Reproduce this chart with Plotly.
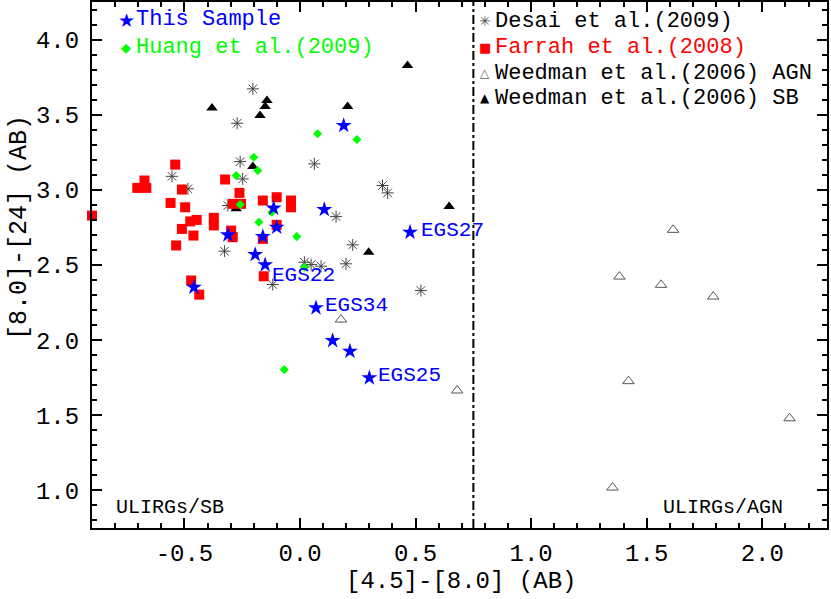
import plotly.graph_objects as go

# ---------------- data ----------------
sample_x = [-0.114, 0.105, -0.101, -0.312, -0.161, -0.194, -0.151, -0.459, 0.189, 0.476, 0.069, 0.141, 0.216, 0.300]
sample_y = [2.878, 2.869, 2.751, 2.700, 2.689, 2.569, 2.501, 2.352, 3.428, 2.718, 2.215, 1.997, 1.926, 1.749]
sample_names = ["", "", "", "", "", "", "EGS22", "", "", "EGS27", "EGS34", "", "", "EGS25"]

huang_x = [0.076, -0.200, -0.183, -0.276, -0.259, -0.178, -0.014, 0.019, 0.246, -0.122, -0.068]
huang_y = [3.373, 3.217, 3.128, 3.095, 2.902, 2.785, 2.689, 2.485, 3.335, 2.851, 1.804]

farrah_x = [-0.900, -0.673, -0.704, -0.665, -0.540, -0.511, -0.324, -0.262, -0.560, -0.497,
            -0.291, -0.255, -0.161, -0.101, -0.039, -0.039, -0.373, -0.373, -0.475, -0.447,
            -0.511, -0.461, -0.298, -0.291, -0.101, -0.161, -0.536, -0.157, -0.471, -0.436]
farrah_y = [2.829, 3.062, 3.013, 3.013, 3.168, 3.002, 3.069, 2.980, 2.913, 2.884,
            2.907, 2.907, 2.929, 2.951, 2.929, 2.884, 2.814, 2.763, 2.790, 2.800,
            2.740, 2.696, 2.729, 2.685, 2.767, 2.674, 2.630, 2.425, 2.397, 2.303]

desai_x = [-0.204, -0.272, -0.259, -0.248, 0.062, 0.357, 0.379, 0.156, 0.228, -0.554,
           -0.485, -0.312, -0.327, 0.019, 0.048, 0.091, 0.199, -0.118, 0.523]
desai_y = [3.672, 3.443, 3.188, 3.073, 3.173, 3.029, 2.980, 2.822, 2.634, 3.090,
           3.007, 2.896, 2.592, 2.518, 2.503, 2.492, 2.508, 2.370, 2.330]

agn_x = [1.614, 1.382, 1.562, 1.788, 1.421, 2.118, 1.352, 0.177, 0.680]
agn_y = [2.734, 2.423, 2.368, 2.290, 1.727, 1.480, 1.019, 2.137, 1.665]

sb_x = [0.465, -0.381, -0.143, -0.151, -0.173, 0.206, 0.645, 0.297, -0.204, -0.276]
sb_y = [3.827, 3.545, 3.594, 3.554, 3.494, 3.554, 2.889, 2.585, 3.155, 2.874]

divide_x = 0.75

x_tick_vals = [-0.5, 0.0, 0.5, 1.0, 1.5, 2.0]
x_tick_text = ["-0.5", "0.0", "0.5", "1.0", "1.5", "2.0"]
y_tick_vals = [1.0, 1.5, 2.0, 2.5, 3.0, 3.5, 4.0]
y_tick_text = ["1.0", "1.5", "2.0", "2.5", "3.0", "3.5", "4.0"]

x_title = "[4.5]-[8.0] (AB)"
y_title = "[8.0]-[24] (AB)"

legend_left = [("★", "This Sample", "#0000FF", "#0000FF", 19),
               ("◆", "Huang et al.(2009)", "#00FF00", "#00FF00", 13)]
legend_right = [("✳", "Desai et al.(2009)", "#555555", "#000000", 14),
                ("■", "Farrah et al.(2008)", "#FF0000", "#FF0000", 13),
                ("△", "Weedman et al.(2006) AGN", "#555555", "#000000", 12),
                ("▲", "Weedman et al.(2006) SB", "#000000", "#000000", 12)]

FONT = "Liberation Mono, Courier New, monospace"

fig = go.Figure()

fig.add_trace(go.Scatter(x=desai_x, y=desai_y, mode="markers", name="Desai et al.(2009)",
                         marker=dict(symbol="asterisk", size=10, color="#444444",
                                     line=dict(width=1, color="#444444"))))
fig.add_trace(go.Scatter(x=sb_x, y=sb_y, mode="markers", name="Weedman et al.(2006) SB",
                         marker=dict(symbol="triangle-up", size=10, color="#000000")))
fig.add_trace(go.Scatter(x=agn_x, y=agn_y, mode="markers", name="Weedman et al.(2006) AGN",
                         marker=dict(symbol="triangle-up-open", size=10, color="#555555",
                                     line=dict(width=1, color="#555555"))))
fig.add_trace(go.Scatter(x=farrah_x, y=farrah_y, mode="markers", name="Farrah et al.(2008)",
                         cliponaxis=False,
                         marker=dict(symbol="square", size=10, color="#FF0000")))
fig.add_trace(go.Scatter(x=huang_x, y=huang_y, mode="markers", name="Huang et al.(2009)",
                         marker=dict(symbol="diamond", size=7, color="#00FF00")))
fig.add_trace(go.Scatter(x=sample_x, y=sample_y, mode="markers", name="This Sample",
                         marker=dict(symbol="star", size=12, color="#0000FF")))

fig.add_vline(x=divide_x, line=dict(color="black", width=2, dash="dashdot"))

# EGS labels attached to their stars
shifts = {"EGS22": (5, -11), "EGS27": (9, 2), "EGS34": (7, 2), "EGS25": (7, 2)}
for xv, yv, nm in zip(sample_x, sample_y, sample_names):
    if nm:
        dx, dy = shifts[nm]
        fig.add_annotation(x=xv, y=yv, text=nm, showarrow=False, xanchor="left", yanchor="middle",
                           xshift=dx, yshift=dy, font=dict(family=FONT, size=21, color="#0000FF"))

# legends (manual)
def px2paper_x(px):
    return (px - 92) / 735.0

def px2paper_y(py):
    return (528 - py) / 526.0

rows_left = [20, 47]
for (sym, txt, sc, tc, ss), ry in zip(legend_left, rows_left):
    fig.add_annotation(xref="paper", yref="paper", x=px2paper_x(126), y=px2paper_y(ry), text=sym,
                       showarrow=False, xanchor="center", yanchor="middle",
                       font=dict(family="DejaVu Sans", size=ss, color=sc))
    fig.add_annotation(xref="paper", yref="paper", x=px2paper_x(134), y=px2paper_y(ry), text=txt,
                       showarrow=False, xanchor="left", yanchor="middle",
                       font=dict(family=FONT, size=22, color=tc))

rows_right = [21, 47, 73, 98]
for (sym, txt, sc, tc, ss), ry in zip(legend_right, rows_right):
    fig.add_annotation(xref="paper", yref="paper", x=px2paper_x(485), y=px2paper_y(ry), text=sym,
                       showarrow=False, xanchor="center", yanchor="middle",
                       font=dict(family="DejaVu Sans", size=ss, color=sc))
    fig.add_annotation(xref="paper", yref="paper", x=px2paper_x(493), y=px2paper_y(ry), text=txt,
                       showarrow=False, xanchor="left", yanchor="middle",
                       font=dict(family=FONT, size=22, color=tc))

# region labels
fig.add_annotation(xref="paper", yref="paper", x=px2paper_x(114), y=px2paper_y(507), text="ULIRGs/SB",
                   showarrow=False, xanchor="left", yanchor="middle",
                   font=dict(family=FONT, size=20, color="black"))
fig.add_annotation(xref="paper", yref="paper", x=px2paper_x(785), y=px2paper_y(507), text="ULIRGs/AGN",
                   showarrow=False, xanchor="right", yanchor="middle",
                   font=dict(family=FONT, size=20, color="black"))

# axis titles
fig.add_annotation(xref="paper", yref="paper", x=px2paper_x(461), y=px2paper_y(581), text=x_title,
                   showarrow=False, xanchor="center", yanchor="middle",
                   font=dict(family=FONT, size=24, color="black"))
fig.add_annotation(xref="paper", yref="paper", x=px2paper_x(19), y=px2paper_y(228), text=y_title,
                   showarrow=False, xanchor="center", yanchor="middle", textangle=-90,
                   font=dict(family=FONT, size=25, color="black"))

axis_common = dict(showgrid=False, zeroline=False, showline=True, linewidth=2, linecolor="black",
                   mirror="allticks", ticks="inside", ticklen=10, tickwidth=2, tickcolor="black",
                   tickfont=dict(family=FONT, size=24, color="black"), automargin=False,
                   minor=dict(ticks="inside", ticklen=5, tickwidth=2, tickcolor="black",
                              dtick=0.1, tick0=0.0, showgrid=False))

fig.update_xaxes(range=[-0.9, 2.28], tickmode="array", tickvals=x_tick_vals, ticktext=x_tick_text,
                 ticklabelstandoff=2, **axis_common)
fig.update_yaxes(range=[0.75, 4.25], tickmode="array", tickvals=y_tick_vals, ticktext=y_tick_text,
                 ticklabelstandoff=6, **axis_common)

fig.update_layout(width=831, height=599, autosize=False,
                  margin=dict(l=92, r=4, t=2, b=71, autoexpand=False),
                  plot_bgcolor="white", paper_bgcolor="white",
                  showlegend=False)

fig.write_html("out.html", config={"displayModeBar": False},
               post_script="document.body.style.margin='0';document.body.style.overflow='hidden';")
